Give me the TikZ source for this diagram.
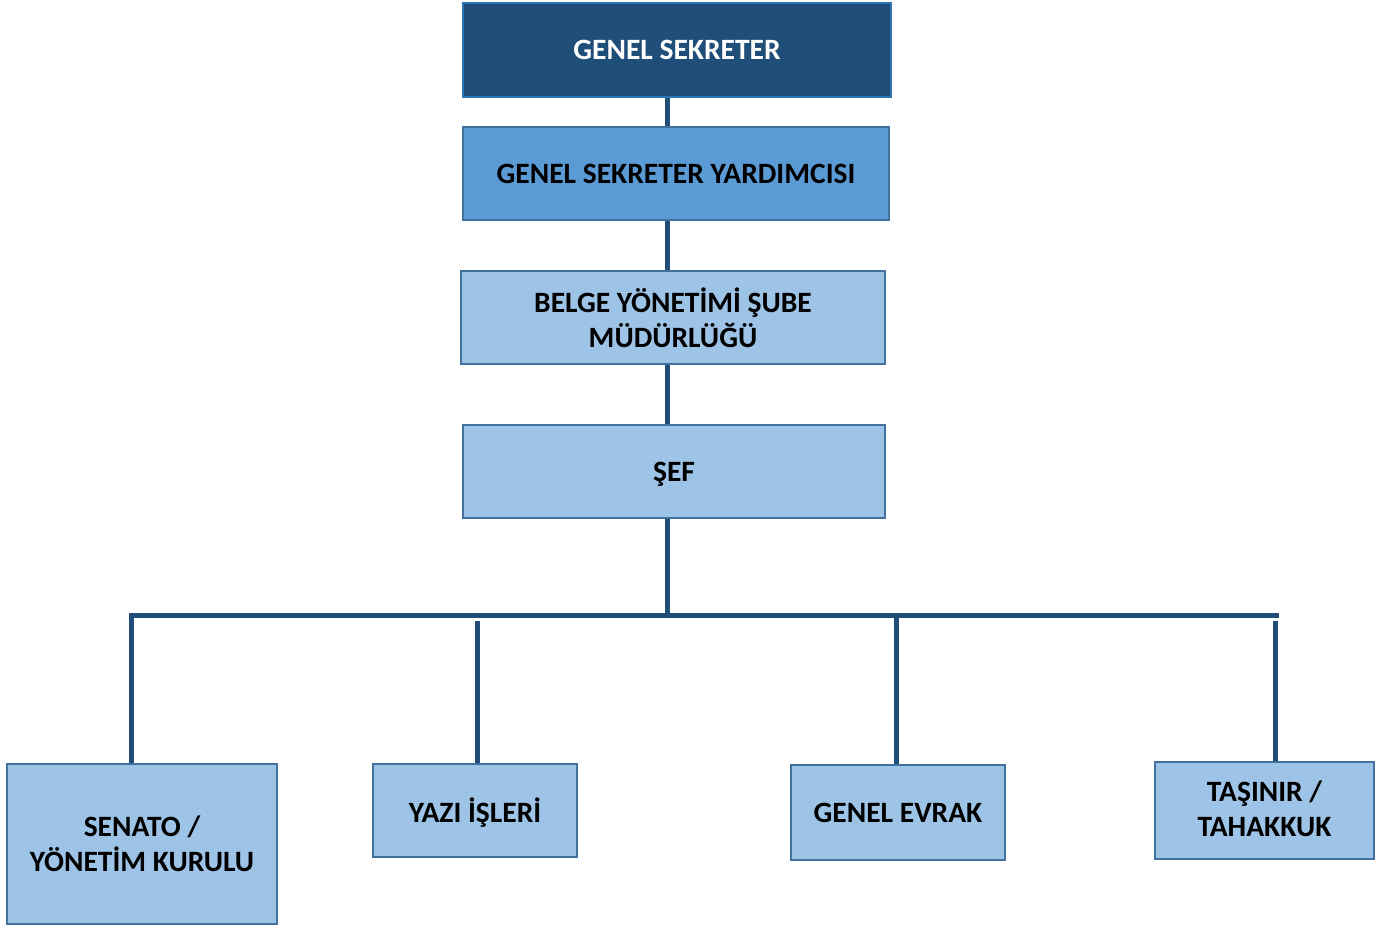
\documentclass[tikz,border=0pt]{standalone}
\usepackage{fontspec}
\setmainfont{Carlito}
\definecolor{darkblue}{HTML}{1F4E79}
\definecolor{darkborder}{HTML}{2E75B6}
\definecolor{midblue}{HTML}{5B9BD5}
\definecolor{lightblue}{HTML}{9DC3E6}
\definecolor{boxborder}{HTML}{41719C}
\definecolor{linecol}{HTML}{1F4E79}
\begin{document}
\begin{tikzpicture}[x=1pt,y=-1pt,
  box/.style={draw=boxborder,line width=2pt,fill=lightblue,inner sep=0pt,align=center,
    font=\bfseries\fontsize{29.5}{35}\selectfont,text=black},
  topbox/.style={box,fill=darkblue,draw=darkborder,text=white},
  midbox/.style={box,fill=midblue},
  conn/.style={draw=linecol,line width=5pt}]
\useasboundingbox (0,0) rectangle (1393,926);
% boxes
\node[topbox,minimum width=428pt,minimum height=94pt] (gs) at (677,50) {GENEL SEKRETER};
\node[midbox,minimum width=426pt,minimum height=93pt] (gsy) at (676,173.5) {GENEL SEKRETER YARDIMCISI};
\node[box,minimum width=424pt,minimum height=93pt] (belge) at (673,317.5) {BELGE YÖNETİMİ ŞUBE\\MÜDÜRLÜĞÜ};
\node[box,minimum width=422pt,minimum height=93pt,text depth=0pt] (sef) at (674,471.5) {ŞEF};
\node[box,minimum width=270pt,minimum height=160pt] (senato) at (142,844) {SENATO /\\YÖNETİM KURULU};
\node[box,minimum width=204pt,minimum height=93pt,text depth=0pt] (yazi) at (475,810.5) {YAZI İŞLERİ};
\node[box,minimum width=214pt,minimum height=95pt] (evrak) at (898,812.5) {GENEL EVRAK};
\node[box,minimum width=219pt,minimum height=97pt] (tasinir) at (1264.5,810.5) {};
\node[font=\bfseries\fontsize{29.5}{35}\selectfont,align=center,inner sep=0pt] (tasinirtext) at (1264.5,808.5) {TAŞINIR /\\TAHAKKUK};
% bus coordinates
\coordinate (busL) at (129,615);
\coordinate (busR) at (1279,615);
\coordinate (busM) at (667,615);
\coordinate (yaziTop) at (477,621);
\coordinate (tasTop) at (1275,621);
% connectors
\draw[conn] (gs.south -| 667,0) -- (gsy.north -| 667,0);
\draw[conn] (gsy.south -| 667,0) -- (belge.north -| 667,0);
\draw[conn] (belge.south -| 667,0) -- (sef.north -| 667,0);
\draw[conn] (sef.south -| 667,0) -- (busM);
\draw[conn] (busL) -- (busR);
\draw[conn] (131,615) -- (senato.north -| 131,0);
\draw[conn] (yaziTop) -- (yazi.north -| yaziTop);
\draw[conn] (896,615) -- (evrak.north -| 896,0);
\draw[conn] (tasTop) -- (tasinir.north -| tasTop);
\end{tikzpicture}
\end{document}
